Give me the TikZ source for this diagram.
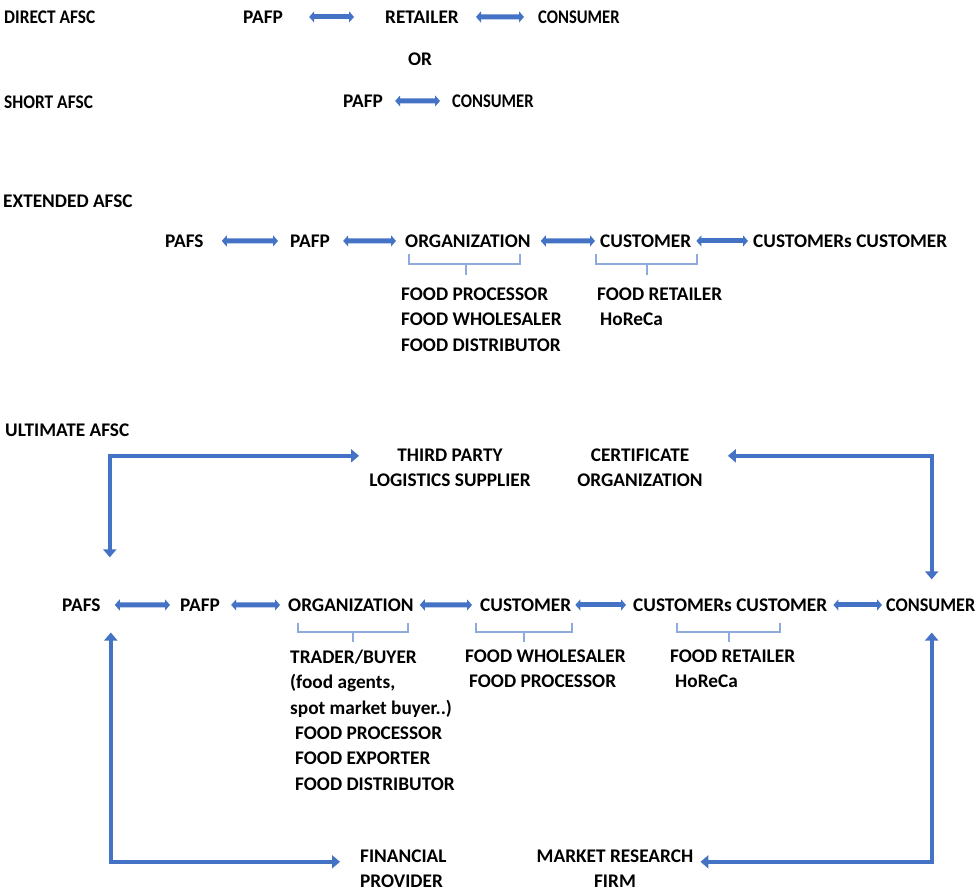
\documentclass[tikz,border=0pt]{standalone}
\usepackage{fontspec}
\usepackage{graphicx}
\setmainfont{Carlito}
\usetikzlibrary{arrows.meta}
\definecolor{flow}{HTML}{4472C4}
\definecolor{brk}{HTML}{8FAADC}
\newcommand\labelfont{\fontsize{19.3}{25.3}\selectfont\bfseries}
\newcommand\narrow[2]{\scalebox{#1}[1]{#2}}
\tikzset{
  lbl/.style={inner sep=0pt, font=\labelfont, anchor=base west},
  lblc/.style={inner sep=0pt, font=\labelfont, anchor=base},
  lst/.style={inner sep=0pt, font=\labelfont, anchor=north west, align=left},
  ctr/.style={inner sep=0pt, font=\labelfont, anchor=north, align=center},
  dbl/.style={draw=flow, line width=5pt,
    {Triangle[length=5pt,width=11pt]}-{Triangle[length=5pt,width=11pt]}},
  elbow/.style={draw=flow, line width=4pt,
    {Triangle[length=8pt,width=13pt]}-{Triangle[length=8pt,width=13pt]}},
  brace/.style={draw=brk, line width=1.2pt},
}
\begin{document}
\begin{tikzpicture}[x=1pt,y=-1pt]
\useasboundingbox (0,0) rectangle (977,892);

% ---- direct and short chains
\node[lbl] (tdirect) at (4,23.2) {\narrow{0.9}{DIRECT AFSC}};
\node[lbl] (dpafp) at (243,23.2) {PAFP};
\node[lbl] (dret) at (385,23.2) {RETAILER};
\node[lbl] (dcons) at (538,23.2) {\narrow{0.86}{CONSUMER}};
\draw[dbl, shorten <=26pt, shorten >=31pt] (dpafp.east) -- (dret.west);
\draw[dbl, shorten <=17pt, shorten >=14pt] (dret.east) -- (dcons.west);

\node[lblc] (or) at (420,65.2) {OR};

\node[lbl] (tshort) at (4,108.2) {\narrow{0.9}{SHORT AFSC}};
\node[lbl] (spafp) at (343,107.2) {PAFP};
\node[lbl] (scons) at (452,107.2) {\narrow{0.86}{CONSUMER}};
\draw[dbl, shorten <=12pt, shorten >=12pt] (spafp.east) -- (scons.west);

% ---- extended chain
\node[lbl] (textended) at (3,207.2) {EXTENDED AFSC};
\node[lbl] (epafs) at (165,247.2) {PAFS};
\node[lbl] (epafp) at (290,247.2) {PAFP};
\node[lbl] (eorg) at (405,247.2) {ORGANIZATION};
\node[lbl] (ecust) at (600,247.2) {CUSTOMER};
\node[lbl] (ecc) at (753,247.2) {CUSTOMERs CUSTOMER};
\draw[dbl, shorten <=18pt, shorten >=12pt] (epafs.east) -- (epafp.west);
\draw[dbl, shorten <=13pt, shorten >=9pt] (epafp.east) -- (eorg.west);
\draw[dbl, shorten <=10pt, shorten >=5pt] (eorg.east) -- (ecust.west);
\draw[dbl, shorten <=5pt, shorten >=5pt] (ecust.east) -- (ecc.west);

\draw[brace] (409,254) -- (409,264) -- (520,264) -- (520,254) (466,264) -- (466,275);
\draw[brace] (596,254) -- (596,264) -- (697,264) -- (697,254) (647,264) -- (647,275);

\node[lst] (eorglist) at (401,287.8) {FOOD PROCESSOR\\FOOD WHOLESALER\\FOOD DISTRIBUTOR};
\node[lst] (ecustlist) at (597,287.8) {FOOD RETAILER\\\hspace*{3pt}HoReCa};

% ---- ultimate chain
\node[lbl] (tultimate) at (5,436.2) {ULTIMATE AFSC};
\node[ctr] (tpl) at (450,448.8) {THIRD PARTY\\LOGISTICS SUPPLIER};
\node[ctr] (cert) at (640,448.8) {CERTIFICATE\\ORGANIZATION};

\node[lbl] (upafs) at (62,611.2) {PAFS};
\node[lbl] (upafp) at (180,611.2) {PAFP};
\node[lbl] (uorg) at (288,611.2) {ORGANIZATION};
\node[lbl] (ucust) at (480,611.2) {CUSTOMER};
\node[lbl] (ucc) at (633,611.2) {CUSTOMERs CUSTOMER};
\node[lbl] (ucons) at (886,611.2) {\narrow{0.94}{CONSUMER}};
\draw[dbl, shorten <=14pt, shorten >=10pt] (upafs.east) -- (upafp.west);
\draw[dbl, shorten <=11pt, shorten >=8pt] (upafp.east) -- (uorg.west);
\draw[dbl, shorten <=6pt, shorten >=8pt] (uorg.east) -- (ucust.west);
\draw[dbl, shorten <=4pt, shorten >=7pt] (ucust.east) -- (ucc.west);
\draw[dbl, shorten <=6pt, shorten >=4pt] (ucc.east) -- (ucons.west);

\draw[brace] (298,623) -- (298,632) -- (408,632) -- (408,623) (353,632) -- (353,642);
\draw[brace] (476,623) -- (476,632) -- (572,632) -- (572,623) (524,632) -- (524,642);
\draw[brace] (677,623) -- (677,632) -- (780,632) -- (780,623) (729,632) -- (729,642);

\node[lst] (uorglist) at (290,649.8) {TRADER/BUYER\\(food agents,\\spot market buyer..)\\
  \hspace*{5pt}FOOD PROCESSOR\\\hspace*{5pt}FOOD EXPORTER\\\hspace*{5pt}FOOD DISTRIBUTOR};
\node[lst] (ucustlist) at (465,649.8) {FOOD WHOLESALER\\\hspace*{4pt}FOOD PROCESSOR};
\node[lst] (ucclist) at (670,649.8) {FOOD RETAILER\\\hspace*{5pt}HoReCa};

\node[lst] (fin) at (360,849.8) {FINANCIAL\\PROVIDER};
\node[ctr] (mrf) at (615,849.8) {MARKET RESEARCH\\FIRM};

% ---- service links around the ultimate chain
\draw[elbow, shorten <=41pt] ([xshift=9pt]upafs.north east) |- ([shift={(-10pt,-7pt)}]tpl.north west);
\draw[elbow, shorten <=19pt] ([xshift=1pt]ucons.north) |- ([shift={(25pt,-7pt)}]cert.north east);
\draw[elbow, shorten <=21pt] ([xshift=10pt]upafs.south east) |- ([shift={(-20pt,-12pt)}]fin.north west);
\draw[elbow, shorten <=21pt] ([xshift=1pt]ucons.south) |- ([shift={(7pt,-12pt)}]mrf.north east);
\end{tikzpicture}
\end{document}
